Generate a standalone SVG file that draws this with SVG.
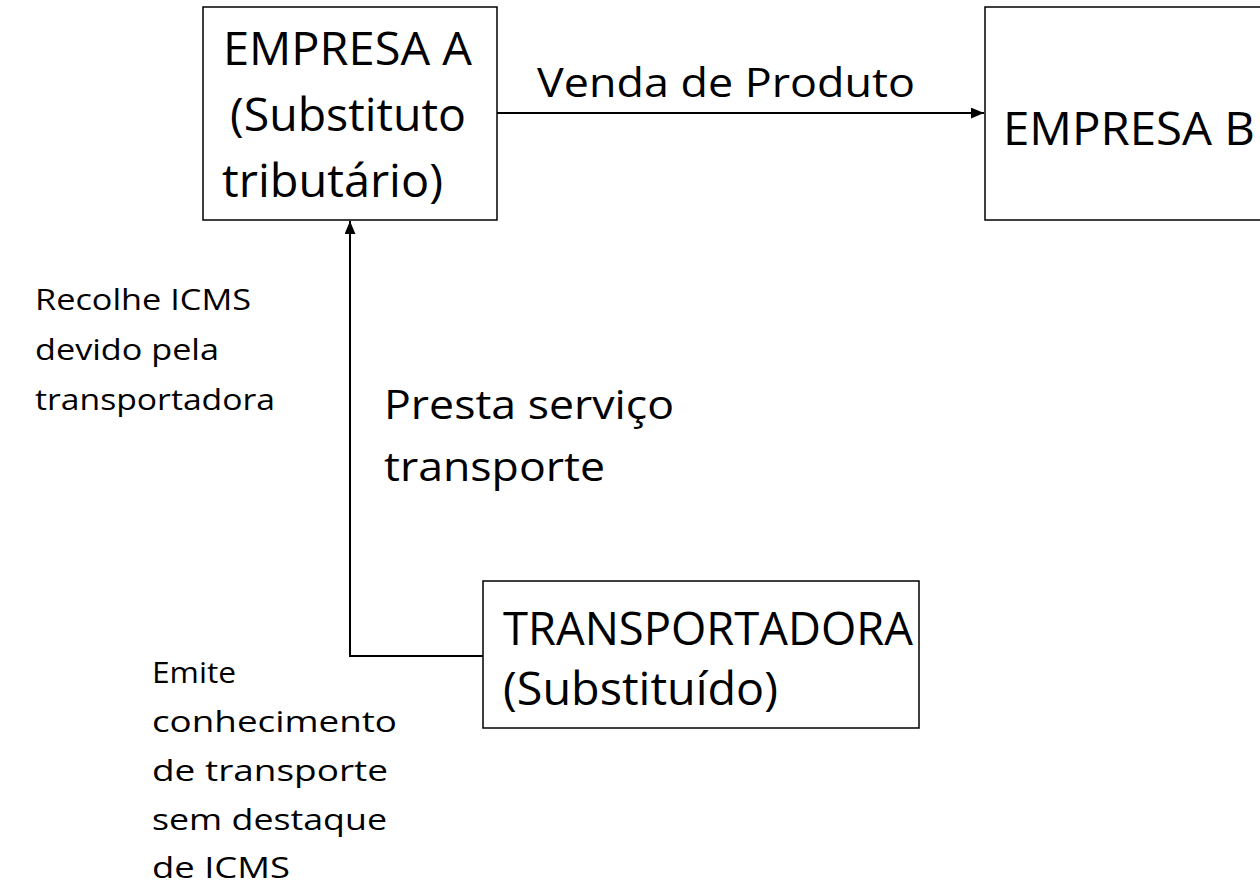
<svg xmlns="http://www.w3.org/2000/svg" width="1260" height="893" viewBox="0 0 1260 893">
<defs>
<style>
.box{fill:#fff;stroke:#000;stroke-width:1.5}
.t{font-family:"Open Sans","Liberation Sans",sans-serif;fill:#000}
.big{font-size:46px}
.mid{font-size:41px}
.sm{font-size:30px}
.ln{fill:none;stroke:#000;stroke-width:2}
</style>
<marker id="ah" viewBox="0 0 12 10" refX="12" refY="5" markerWidth="6.5" markerHeight="5.5" orient="auto" markerUnits="strokeWidth">
<path d="M0,0 L12,5 L0,10 z" fill="#000"/>
</marker>
</defs>
<rect width="1260" height="893" fill="#fff"/>
<g id="connectors">
<line class="ln" x1="497" y1="113" x2="984" y2="113" marker-end="url(#ah)"/>
<polyline class="ln" points="483,656 350,656 350,221" marker-end="url(#ah)"/>
<text class="t mid" x="537" y="97" textLength="378" lengthAdjust="spacingAndGlyphs">Venda de Produto</text>
<text class="t mid" x="384" y="419" textLength="290" lengthAdjust="spacingAndGlyphs">Presta serviço</text>
<text class="t mid" x="384" y="481" textLength="221" lengthAdjust="spacingAndGlyphs">transporte</text>
</g>
<g id="empresaA">
<rect class="box" x="203" y="7" width="294" height="213"/>
<text class="t big" x="223" y="65" textLength="249" lengthAdjust="spacingAndGlyphs">EMPRESA A</text>
<text class="t big" x="230" y="131" textLength="236" lengthAdjust="spacingAndGlyphs">(Substituto</text>
<text class="t big" x="222" y="197" textLength="221" lengthAdjust="spacingAndGlyphs">tributário)</text>
</g>
<g id="empresaB">
<rect class="box" x="985" y="7" width="300" height="213"/>
<text class="t big" x="1003" y="145" textLength="252" lengthAdjust="spacingAndGlyphs">EMPRESA B</text>
</g>
<g id="transportadora">
<rect class="box" x="483" y="581" width="436" height="147"/>
<text class="t big" x="503" y="645" textLength="410" lengthAdjust="spacingAndGlyphs">TRANSPORTADORA</text>
<text class="t big" x="503" y="705" textLength="275" lengthAdjust="spacingAndGlyphs">(Substituído)</text>
</g>
<g id="recolhe">
<text class="t sm" x="35" y="310" textLength="216" lengthAdjust="spacingAndGlyphs">Recolhe ICMS</text>
<text class="t sm" x="35" y="360" textLength="184" lengthAdjust="spacingAndGlyphs">devido pela</text>
<text class="t sm" x="35" y="410" textLength="240" lengthAdjust="spacingAndGlyphs">transportadora</text>
</g>
<g id="emite">
<text class="t sm" x="152" y="683" textLength="84" lengthAdjust="spacingAndGlyphs">Emite</text>
<text class="t sm" x="152" y="732" textLength="245" lengthAdjust="spacingAndGlyphs">conhecimento</text>
<text class="t sm" x="152" y="781" textLength="236" lengthAdjust="spacingAndGlyphs">de transporte</text>
<text class="t sm" x="152" y="830" textLength="235" lengthAdjust="spacingAndGlyphs">sem destaque</text>
<text class="t sm" x="152" y="878" textLength="138" lengthAdjust="spacingAndGlyphs">de ICMS</text>
</g>
</svg>
